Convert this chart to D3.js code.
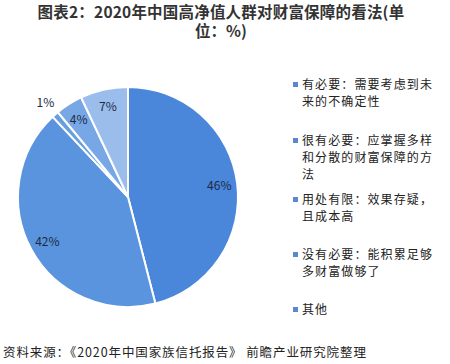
<!DOCTYPE html>
<html>
<head>
<meta charset="utf-8">
<script src="https://cdn.jsdelivr.net/npm/d3@7"></script>
<style>
  body { margin: 0; background: #fff; }
  text { font-family: "Noto Sans CJK SC", "Noto Sans", sans-serif; }
</style>
</head>
<body>
<script>
var categories = ["有必要", "很有必要", "用处有限", "没有必要", "其他"];
var values = [46, 42, 1, 4, 7];
var legendLines = [
  ["有必要：需要考虑到未", "来的不确定性"],
  ["很有必要：应掌握多样", "和分散的财富保障的方", "法"],
  ["用处有限：效果存疑，", "且成本高"],
  ["没有必要：能积累足够", "多财富做够了"],
  ["其他"]
];
var colors = ["#4a86da", "#5a93de", "#6a9ee2", "#78a7e5", "#9bbdec"];

var svg = d3.select("body").append("svg")
    .attr("width", 450)
    .attr("height", 364);

// title
svg.append("text").attr("x", 221).attr("y", 18)
    .attr("text-anchor", "middle").attr("font-size", 15.5).attr("font-weight", "bold")
    .attr("letter-spacing", 0.2)
    .attr("fill", "#333").text("图表2：2020年中国高净值人群对财富保障的看法(单");
svg.append("text").attr("x", 221).attr("y", 37)
    .attr("text-anchor", "middle").attr("font-size", 15.5).attr("font-weight", "bold")
    .attr("fill", "#333").text("位：%)");

var cx = 128, cy = 197, r = 110;
var pie = d3.pie().sort(null).value(function(d) { return d; });
var arcs = pie(values);
var arc = d3.arc().innerRadius(0).outerRadius(r);
var labelArc = d3.arc().innerRadius(92).outerRadius(92);
var outArc = d3.arc().innerRadius(125).outerRadius(125);

var g = svg.append("g").attr("transform", "translate(" + cx + "," + cy + ")");

g.selectAll("path")
    .data(arcs)
    .enter()
    .append("path")
    .attr("d", arc)
    .attr("fill", function(d, i) { return colors[i]; })
    .attr("stroke", "#fff")
    .attr("stroke-width", 2);

g.selectAll("text.lbl")
    .data(arcs)
    .enter()
    .append("text")
    .attr("class", "lbl")
    .attr("transform", function(d) {
      var p = d.data < 2 ? outArc.centroid(d) : labelArc.centroid(d);
      return "translate(" + p + ")";
    })
    .attr("text-anchor", "middle")
    .attr("dy", "0.35em")
    .attr("font-size", 12)
    .attr("fill", "#1c2b45")
    .text(function(d) { return d.data + "%"; });

// legend
var legendY = [85, 141, 200, 255, 310];
var lg = svg.append("g");
legendLines.forEach(function(lines, i) {
  lg.append("rect")
    .attr("x", 293).attr("y", legendY[i] - 3)
    .attr("width", 5).attr("height", 5)
    .attr("fill", "#5b87cf");
  lines.forEach(function(t, j) {
    lg.append("text")
      .attr("x", 302).attr("y", legendY[i] + j * 17)
      .attr("dy", "0.35em")
      .attr("font-size", 12)
      .attr("letter-spacing", 1.1)
      .attr("fill", "#222")
      .text(t);
  });
});

// source
svg.append("text").attr("x", 3).attr("y", 357)
    .attr("font-size", 12.5).attr("letter-spacing", 0.9).attr("fill", "#222")
    .text("资料来源：《2020年中国家族信托报告》 前瞻产业研究院整理");
</script>
</body>
</html>
